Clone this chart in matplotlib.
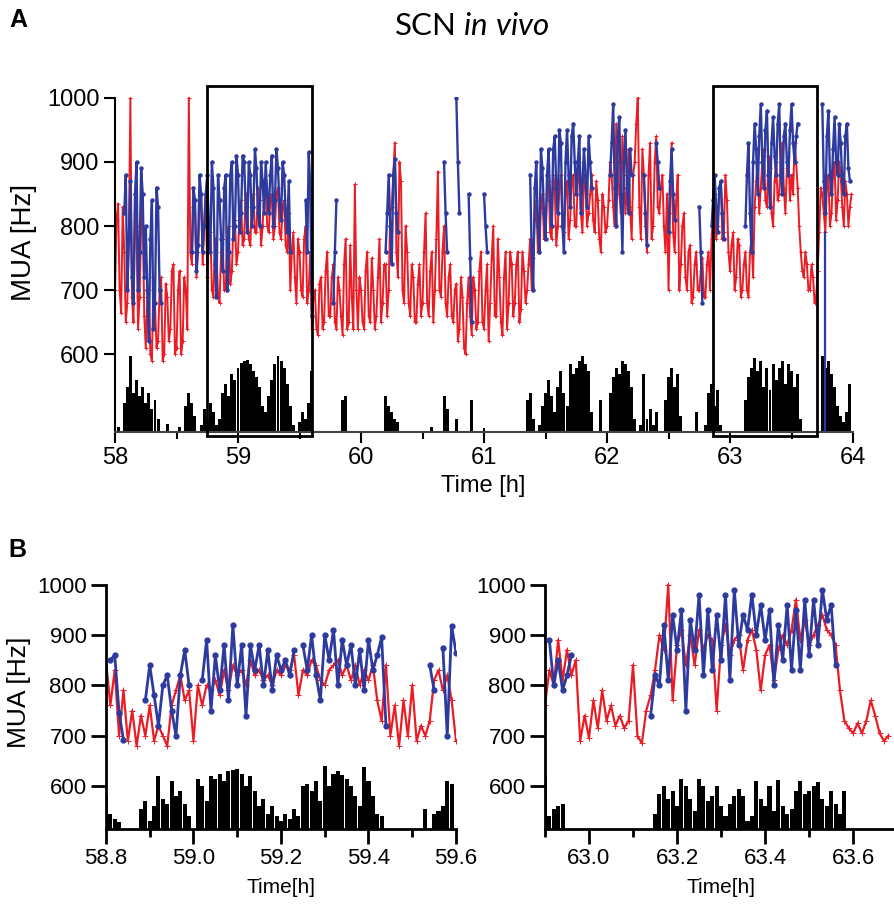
import matplotlib
matplotlib.use("Agg")
import matplotlib.pyplot as plt
import numpy as np
from matplotlib.patches import Rectangle
from matplotlib.ticker import MultipleLocator, FormatStrFormatter

plt.rcParams['font.family'] = ['Liberation Sans', 'DejaVu Sans']
plt.rcParams['mathtext.fontset'] = 'custom'
plt.rcParams['mathtext.rm'] = 'Lato'
plt.rcParams['mathtext.it'] = 'Lato:italic'

RED = '#ec1c24'
BLUE = '#2e3b9e'
N = None

# ---------------- panel A : 58-64 h ----------------
# samples on the 0.025 h grid and the in-between samples (grid + 0.0125 h)
t_a = np.round(np.arange(58.0, 64.0, 0.025), 3)

mua_red_a = [
    700, 835, 665, 760, 680, 1000, 650, 800, 690, 850,
    610, 700, 590, 680, 620, 720, 600, 690, 640, 740,
    610, 730, 620, 700, 1000, 740, 840, 760, 850, 800,
    720, 790, 690, 760, 680, 780, 700, 800, 730, 810,
    760, 840, 780, 830, 770, 850, 790, 840, 800, 860,
    790, 850, 800, 860, 780, 840, 760, 700, 790, 680,
    760, 690, 800, 700, 640, 700, 630, 720, 650, 760,
    660, 740, 640, 700, 630, 780, 650, 690, 865, 640,
    700, 640, 760, 650, 700, 660, 780, 680, 740, 700,
    830, 930, 720, 870, 680, 760, 660, 720, 650, 740,
    680, 820, 660, 760, 700, 885, 690, 800, 660, 740,
    650, 710, 640, 690, 600, 720, 630, 700, 650, 760,
    640, 740, 680, 800, 660, 720, 630, 760, 680, 740,
    680, 760, 670, 730, 700, 780, 750, 840, 760, 850,
    790, 870, 780, 860, 800, 880, 790, 870, 810, 880,
    800, 900, 790, 860, 820, 880, 790, 840, 760, 830,
    800, 900, 830, 960, 850, 940, 820, 920, 780, 900,
    1000, 780, 880, 760, 930, 800, 940, 820, 880, 760,
    700, 930, 760, 880, 740, 820, 700, 770, 690, 760,
    700, 750, 690, 760, 780, 850, 800, 870, 790, 840,
    730, 790, 720, 770, 700, 760, 690, 780, 830, 900,
    860, 920, 830, 890, 800, 900, 850, 930, 820, 910,
    880, 930, 860, 760, 720, 740, 700, 720, 690, 790,
    850, 790, 880, 820, 900, 840, 880, 800, 850, 830,
]

mua_red_a_mid = [
    810, 700, 830, 650, 780, 690, 820, 640, 800, 660,
    690, 600, 720, 610, 700, 590, 710, 620, 730, 600,
    700, 600, 720, 640, 760, 830, 720, 830, 740, 850,
    800, 700, 780, 690, 760, 700, 790, 710, 800, 740,
    820, 770, 850, 780, 840, 790, 860, 770, 850, 800,
    840, 780, 850, 790, 830, 770, 820, 760, 720, 780,
    700, 780, 680, 760, 690, 640, 710, 640, 730, 660,
    720, 650, 720, 660, 740, 640, 770, 640, 700, 720,
    650, 730, 660, 750, 640, 720, 650, 740, 660, 820,
    880, 760, 900, 700, 800, 680, 740, 650, 710, 660,
    760, 680, 730, 650, 780, 700, 760, 680, 720, 660,
    700, 620, 720, 610, 680, 660, 720, 640, 730, 650,
    700, 620, 750, 660, 780, 650, 720, 640, 760, 660,
    740, 650, 760, 680, 740, 700, 810, 760, 830, 780,
    850, 790, 880, 770, 860, 800, 850, 780, 870, 800,
    870, 820, 880, 800, 850, 810, 870, 780, 850, 790,
    840, 880, 800, 900, 820, 880, 860, 830, 880, 960,
    830, 920, 800, 880, 780, 900, 830, 860, 800, 850,
    820, 790, 840, 700, 800, 720, 760, 680, 740, 700,
    730, 690, 740, 700, 820, 780, 860, 780, 880, 760,
    770, 700, 780, 690, 740, 700, 760, 720, 870, 820,
    900, 840, 910, 820, 870, 840, 900, 860, 890, 840,
    850, 900, 800, 730, 760, 700, 740, 680, 730, 860,
    820, 860, 800, 880, 810, 900, 830, 870, 800, 850,
]

mua_blue_a = [
    N, N, N, 820, 700, 870, 680, 900, 760, 850,
    800, 620, 840, 680, 830, 680, N, N, N, N,
    N, N, N, N, N, 760, 840, 770, 850, 800,
    880, 760, 860, 690, 840, 730, 880, 760, 900, 800,
    880, 820, 900, 790, 880, 830, 890, 800, 870, 900,
    820, 910, 840, 890, 810, 880, 790, 760, N, N,
    N, N, 840, 915, 660, N, N, N, N, N,
    N, 680, 840, N, N, N, N, N, N, N,
    N, N, N, N, N, N, N, N, 760, 880,
    740, 905, 790, N, N, N, N, N, N, N,
    N, N, N, N, N, N, N, 900, 760, N,
    N, 1000, 820, N, N, 850, 650, N, N, N,
    850, 760, N, N, N, N, N, N, N, N,
    N, N, N, N, N, 880, 700, 900, 760, 890,
    780, 920, 800, 940, 820, 930, 760, 950, 830, 960,
    850, 940, 870, 880, 940, 860, N, N, N, N,
    N, 880, 990, 800, 970, 760, 950, 820, 880, N,
    N, N, 880, 770, N, N, 930, 860, N, N,
    790, 920, 810, N, N, N, N, N, N, N,
    830, 680, N, N, 800, 880, 790, 870, 780, N,
    N, N, N, N, N, 800, 930, 760, 960, 850,
    990, 860, 980, 830, 970, 880, 990, 850, 960, 880,
    990, 900, 960, N, N, N, N, N, N, N,
    990, 820, 980, 850, 970, 880, 930, 850, 960, 870,
]

mua_blue_a_mid = [
    N, N, N, 880, 780, 720, 850, 700, 890, 720,
    700, 780, 640, 860, 700, N, N, N, N, N,
    N, N, N, N, N, 860, 730, 880, 760, 850,
    800, 900, 740, 880, 780, 860, 700, 880, 780, 910,
    790, 910, 830, 900, 800, 920, 820, 900, 820, 850,
    880, 800, 920, 830, 900, 820, 870, N, N, N,
    N, N, 760, 860, N, N, N, N, N, N,
    N, 760, N, N, N, N, N, N, N, N,
    N, N, N, N, N, N, N, N, 820, 800,
    880, 820, N, N, N, N, N, N, N, N,
    N, N, N, N, N, N, N, 820, N, N,
    N, 900, N, N, N, 750, N, N, N, N,
    800, N, N, N, N, N, N, N, N, N,
    N, N, N, N, N, 760, 860, 800, 920, 820,
    880, 840, 920, 860, 950, 800, 900, 880, 940, 900,
    900, 820, 920, 830, 900, N, N, N, N, N,
    N, 930, 860, 940, 850, 900, 860, 920, N, N,
    N, N, 820, N, N, N, 900, N, N, N,
    870, 850, N, N, N, N, N, N, N, N,
    760, N, N, N, 840, 830, 860, 820, N, N,
    N, N, N, N, N, 880, 820, 900, 920, 940,
    900, 950, 880, 930, 910, 960, 880, 940, 900, 950,
    930, 940, N, N, N, N, N, N, N, N,
    870, 940, 880, 920, 900, 960, 870, 940, 890, N,
]

# single blue excursion that runs down to the baseline at ~63.77 h
drop_t = [63.77, 63.77]
drop_v = [790, 480]

# activity bars, height above the panel baseline (0.025 h bins)
act_a = [
    0, 8, 0, 45, 70, 118, 60, 80, 55, 70,
    45, 60, 35, 50, 20, 0, 0, 12, 0, 0,
    0, 8, 0, 40, 60, 45, 25, 0, 10, 35,
    20, 45, 30, 10, 20, 60, 75, 55, 90, 80,
    100, 108, 110, 112, 105, 95, 85, 70, 40, 30,
    55, 80, 105, 118, 110, 100, 75, 40, 10, 0,
    15, 30, 20, 45, 95, 0, 0, 0, 0, 0,
    0, 0, 0, 0, 50, 55, 0, 0, 0, 0,
    0, 0, 0, 0, 0, 0, 0, 0, 55, 40,
    30, 20, 15, 0, 0, 0, 0, 0, 0, 0,
    0, 0, 0, 8, 0, 0, 0, 55, 35, 0,
    0, 20, 0, 0, 0, 0, 50, 0, 0, 0,
    6, 0, 0, 0, 0, 0, 0, 0, 0, 0,
    0, 0, 0, 0, 50, 60, 20, 0, 10, 40,
    60, 80, 55, 30, 70, 95, 60, 40, 105, 90,
    100, 110, 118, 105, 95, 30, 0, 0, 50, 0,
    0, 60, 85, 100, 90, 110, 105, 95, 70, 20,
    0, 10, 90, 20, 35, 10, 30, 0, 0, 50,
    85, 100, 70, 90, 25, 0, 0, 0, 0, 30,
    0, 0, 10, 60, 75, 40, 65, 10, 0, 0,
    0, 0, 0, 0, 0, 50, 85, 100, 115, 95,
    110, 70, 100, 65, 105, 80, 100, 110, 75, 105,
    95, 70, 90, 20, 0, 0, 0, 0, 0, 0,
    118, 100, 110, 90, 70, 40, 25, 15, 30, 75,
]

zoom_windows = [(58.75, 59.60), (62.86, 63.71)]

# ---------------- panel B left : 58.8-59.6 h, one sample per 0.01 h ----------------
t_bl = np.round(np.arange(58.80, 59.605, 0.01), 2)

mua_red_bl = [
    850, 760, 830, 700, 790, 690, 750, 680, 740, 700,
    760, 690, 720, 700, 680, 760, 790, 820, 770, 790,
    690, 800, 760, 800, 790, 810, 780, 830, 790, 840,
    820, 830, 800, 850, 820, 830, 810, 820, 800, 830,
    820, 840, 830, 860, 780, 830, 820, 850, 840, 810,
    800, 830, 840, 850, 820, 840, 810, 840, 800, 830,
    810, 840, 770, 730, 840, 700, 760, 680, 770, 700,
    800, 690, 720, 700, 730, 810, 830, 790, 820, 770,
    690,
]

mua_blue_bl = [
    N, 850, 860, 745, 692, N, N, N, N, 770,
    840, 780, 720, 800, 820, 750, 700, 820, 870, 800,
    N, N, 810, 890, 750, 860, 790, 880, 770, 920,
    800, 880, 740, 880, 830, 880, 800, 870, 790, 860,
    830, 850, 820, 870, N, 880, 830, 900, 820, 770,
    900, 850, 910, 800, 890, 840, 880, 800, 870, 790,
    890, 830, 860, 895, 720, N, N, N, N, N,
    N, N, N, N, 840, 790, N, 875, 700, 918,
    865,
]

act_bl = [
    65, 30, 20, 13, 0, 0, 0, 0, 40, 55,
    15, 45, 105, 60, 50, 95, 65, 75, 50, 25,
    0, 100, 85, 55, 105, 100, 110, 95, 115, 117,
    119, 110, 85, 105, 75, 45, 60, 30, 45, 25,
    15, 30, 20, 40, 25, 85, 90, 75, 95, 55,
    125, 85, 110, 115, 107, 100, 85, 65, 45, 122,
    95, 65, 30, 25, 0, 0, 0, 0, 0, 0,
    0, 0, 0, 40, 0, 30, 35, 45, 95, 90,
    0,
]

# ---------------- panel B right : 62.9-63.68 h, one sample per 0.01 h ----------------
t_br = np.round(np.arange(62.90, 63.685, 0.01), 2)

mua_red_br = [
    760, 830, 800, 890, 810, 870, 820, 850, 690, 740,
    695, 770, 715, 790, 730, 760, 720, 740, 715, 730,
    840, 700, 685, 750, 780, 830, 900, 870, 1000, 770,
    880, 910, 840, 900, 840, 910, 870, 900, 890, 750,
    880, 920, 860, 890, 900, 830, 890, 910, 870, 790,
    860, 880, 810, 870, 900, 880, 910, 970, 890, 930,
    880, 900, 920, 940, 910, 900, 880, 790, 730, 715,
    705, 725, 705, 730, 770, 740, 705, 690, 700,
]

mua_blue_br = [
    N, 890, 800, 850, 790, 820, 860, N, N, N,
    N, N, N, N, N, N, N, N, N, N,
    N, N, N, N, 740, 820, 800, 920, 810, 940,
    870, 950, 750, 930, 870, 980, 820, 950, 830, 940,
    850, 980, 810, 990, 880, 940, 910, 980, 900, 960,
    890, 950, 800, 920, 850, 960, 830, 950, 830, 970,
    860, 970, 880, 990, 930, 960, 840, N, N, N,
    N, N, N, N, N, N, N, N, N,
]

act_br = [
    105, 25, 40, 45, 50, 0, 0, 0, 0, 0,
    0, 0, 0, 0, 0, 0, 0, 0, 0, 0,
    0, 0, 0, 0, 0, 30, 70, 85, 60, 75,
    45, 100, 85, 60, 35, 100, 85, 55, 65, 85,
    45, 25, 50, 65, 80, 65, 15, 25, 95, 60,
    45, 85, 35, 97, 45, 30, 40, 75, 95, 70,
    75, 85, 93, 60, 45, 75, 50, 30, 75, 0,
    0, 0, 0, 0, 0, 0, 0, 0, 0,
]


def to_arr(vals):
    return np.array(vals, dtype=float)


def interleave(a, b):
    out = np.empty(2 * len(a))
    out[0::2] = to_arr(a)
    out[1::2] = to_arr(b)
    return out


def draw_trace(ax, t, red, blue, act, t_bar, base, bar_w, lw_red, lw_blue, ms):
    ax.bar(t_bar, act, width=bar_w, bottom=base, color='black', linewidth=0, zorder=1)
    ax.plot(t, to_arr(red), color=RED, lw=lw_red, marker='+', ms=ms + 1,
            mew=0.7, zorder=2)
    ax.plot(t, to_arr(blue), color=BLUE, lw=lw_blue, marker='o', ms=ms,
            mec=BLUE, zorder=3)


def style_axes(ax, base, lw, major_len, minor_len, size):
    for s in ['top', 'right']:
        ax.spines[s].set_visible(False)
    ax.spines['left'].set_bounds(base, 1000)
    for s in ['left', 'bottom']:
        ax.spines[s].set_linewidth(lw)
    ax.set_yticks([600, 700, 800, 900, 1000])
    ax.tick_params(which='major', length=major_len, width=lw, labelsize=size, pad=3)
    ax.tick_params(which='minor', length=minor_len, width=lw)
    ax.tick_params(axis='y', which='minor', length=0)


fig = plt.figure(figsize=(8.95, 9.05), dpi=100)

# ---- A ----
base_a = 479
t_a_fine = interleave(t_a, t_a + 0.0125)
red_a = interleave(mua_red_a, mua_red_a_mid)
blue_a = interleave(mua_blue_a, mua_blue_a_mid)

axA = fig.add_axes([0.1285, 0.5230, 0.8246, 0.3702])
draw_trace(axA, t_a_fine, red_a, blue_a, act_a, t_a, base_a, 0.024, 1.4, 1.7, 2.2)
axA.plot(drop_t, drop_v, color=BLUE, lw=1.6, zorder=3)
axA.set_xlim(58, 64)
axA.set_ylim(base_a, 1002)
axA.xaxis.set_major_locator(MultipleLocator(1))
axA.xaxis.set_minor_locator(MultipleLocator(0.5))
style_axes(axA, base_a, 1.5, 8, 5, 17)
axA.spines['bottom'].set_color('#444444')
axA.set_ylabel('MUA [Hz]', fontsize=20)
axA.yaxis.set_label_coords(-0.106, 0.566)
axA.set_xlabel('Time [h]', fontsize=17)
axA.xaxis.set_label_coords(0.4986, -0.13)
for x0, x1 in zoom_windows:
    axA.add_patch(Rectangle((x0, 473), x1 - x0, 1018.6 - 473, fill=False,
                            lw=2, edgecolor='black', clip_on=False, zorder=4))

# ---- B left ----
base_b = 515
axBL = fig.add_axes([0.1184, 0.0840, 0.3911, 0.2729])
draw_trace(axBL, t_bl, mua_red_bl, mua_blue_bl, act_bl, t_bl, base_b, 0.0092, 1.6, 2.0, 3.5)
axBL.set_xlim(58.8, 59.6)
axBL.set_ylim(base_b, 1005)
axBL.xaxis.set_major_locator(MultipleLocator(0.2))
axBL.xaxis.set_minor_locator(MultipleLocator(0.1))
axBL.xaxis.set_major_formatter(FormatStrFormatter('%.1f'))
style_axes(axBL, base_b, 2, 11, 6, 16)
axBL.set_ylabel('MUA [Hz]', fontsize=19)
axBL.yaxis.set_label_coords(-0.215, 0.555)
axBL.set_xlabel('Time[h]', fontsize=15)
axBL.xaxis.set_label_coords(0.5, -0.2)

# ---- B right ----
axBR = fig.add_axes([0.6089, 0.0840, 0.3911, 0.2729])
draw_trace(axBR, t_br, mua_red_br, mua_blue_br, act_br, t_br, base_b, 0.0092, 1.6, 2.0, 3.5)
axBR.set_xlim(62.9, 63.695)
axBR.set_ylim(base_b, 1005)
axBR.set_xticks([63.0, 63.2, 63.4, 63.6])
axBR.xaxis.set_minor_locator(MultipleLocator(0.1))
axBR.xaxis.set_major_formatter(FormatStrFormatter('%.1f'))
style_axes(axBR, base_b, 2, 11, 6, 16)
axBR.set_xlabel('Time[h]', fontsize=15)
axBR.xaxis.set_label_coords(0.503, -0.2)

# ---- titles / panel letters ----
fig.text(0.527, 0.971, r'SCN $\mathit{in\ vivo}$', fontsize=22.5, family='Lato',
         ha='center', va='center')
fig.text(0.011, 0.978, 'A', fontsize=18, fontweight='bold', ha='left', va='center')
fig.text(0.009, 0.392, 'B', fontsize=18, fontweight='bold', ha='left', va='center')

fig.savefig('out.png', dpi=100)
